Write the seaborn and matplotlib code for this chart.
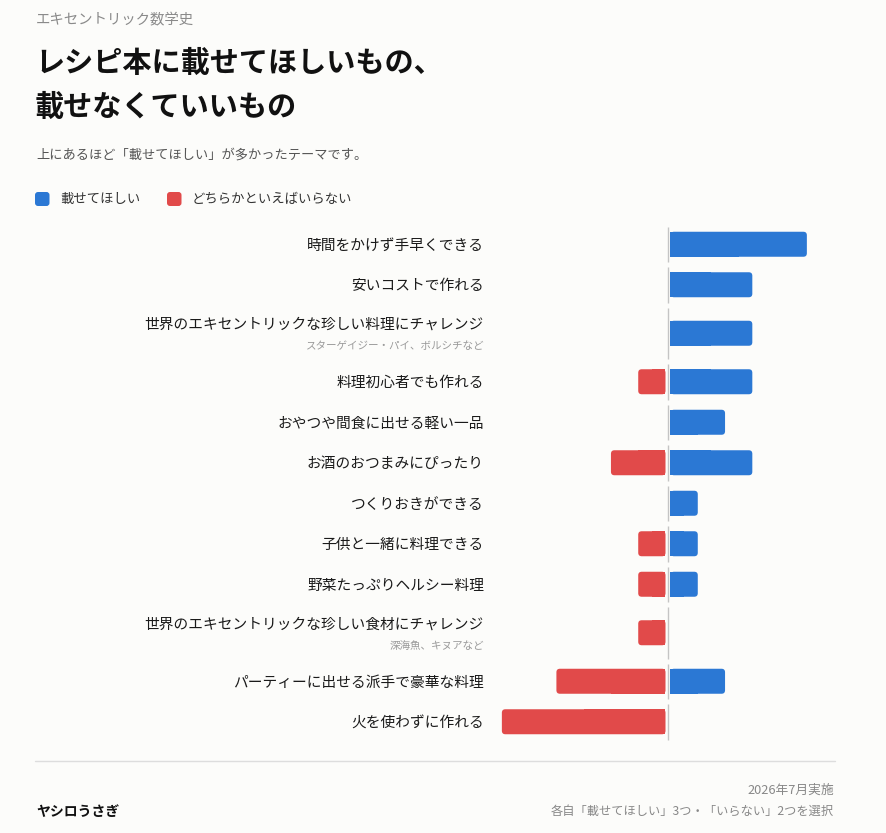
import numpy as np
import pandas as pd
import matplotlib.pyplot as plt
from matplotlib.patches import FancyBboxPatch, Rectangle
from matplotlib.lines import Line2D
from matplotlib.transforms import blended_transform_factory
import seaborn as sns

# データ(上から順に)
themes = [
    '時間をかけず手早くできる',
    '安いコストで作れる',
    '世界のエキセントリックな珍しい料理にチャレンジ',
    '料理初心者でも作れる',
    'おやつや間食に出せる軽い一品',
    'お酒のおつまみにぴったり',
    'つくりおきができる',
    '子供と一緒に料理できる',
    '野菜たっぷりヘルシー料理',
    '世界のエキセントリックな珍しい食材にチャレンジ',
    'パーティーに出せる派手で豪華な料理',
    '火を使わずに作れる',
]
notes = ['', '', 'スターゲイジー・パイ、ボルシチなど', '', '', '', '', '', '',
         '深海魚、キヌアなど', '', '']
want = [5, 3, 3, 3, 2, 3, 1, 1, 1, 0, 2, 0]
skip = [0, 0, 0, 1, 0, 2, 0, 1, 1, 1, 4, 6]
kinds = ['載せてほしい', 'どちらかといえばいらない']

W, H = 887, 833
bg = '#fcfcfa'
blue = '#2b78d4'
red = '#e14a4a'

sns.set_theme(style='white')
plt.rcParams['font.family'] = ['Noto Sans CJK JP', 'DejaVu Sans']

# 補足つきの行は少し高くする(ピクセル単位)
heights = np.array([56.5 if n else 40.5 for n in notes])
tops = 224 + np.concatenate([[0], np.cumsum(heights)[:-1]])
centers = tops + heights / 2

df = pd.DataFrame({
    'y': np.concatenate([centers, centers]),
    'value': np.concatenate([want, -np.array(skip)]),
    'kind': [kinds[0]] * len(want) + [kinds[1]] * len(skip),
})

fig = plt.figure(figsize=(W / 100, H / 100), dpi=100, facecolor=bg)
ax = fig.add_axes([494 / W, (H - 742) / H, 348 / W, 518 / H])
ax.set_facecolor(bg)

sns.barplot(data=df, x='value', y='y', hue='kind', orient='y', native_scale=True,
            dodge=False, palette={kinds[0]: blue, kinds[1]: red}, saturation=1,
            width=25 / 40.5, errorbar=None, legend=False, ax=ax)

ax.set_xlim(-6.38, 6.38)
ax.set_ylim(742, 224)
ax.axis('off')

# 棒を角丸にして中央線から少し離す
px_per_unit = 348 / 12.76
g = 2.5 / px_per_unit
r = 3.5 / px_per_unit
for p in list(ax.patches):
    x, y, w, h = p.get_x(), p.get_y(), p.get_width(), p.get_height()
    col = p.get_facecolor()
    p.remove()
    if w == 0:
        continue
    if w > 0:
        x0, x1 = x + g, x + w + g
        sq = Rectangle((x0, y), (x1 - x0) / 2, h, fc=col, lw=0)
    else:
        x0, x1 = x + w - g, x - g
        sq = Rectangle(((x0 + x1) / 2, y), (x1 - x0) / 2, h, fc=col, lw=0)
    ax.add_patch(FancyBboxPatch((x0, y), x1 - x0, h,
                                boxstyle=f'round,pad=0,rounding_size={r}',
                                mutation_aspect=px_per_unit, fc=col, lw=0))
    ax.add_patch(sq)

# 行ごとの中央線
for t, hh in zip(tops, heights):
    ax.vlines(0, t + 2.5, t + hh - 2.5, color='#c4c4c4', lw=1)

# 項目ラベル
trans = blended_transform_factory(fig.transFigure, ax.transData)
for c, th, n in zip(centers, themes, notes):
    if n:
        ax.text(484 / W, c - 8.5, th, ha='right', va='center', fontsize=10.6,
                color='#1a1a1a', transform=trans)
        ax.text(484 / W, c + 13, n, ha='right', va='center', fontsize=7.6,
                color='#9a9a9a', transform=trans)
    else:
        ax.text(484 / W, c + 1.5, th, ha='right', va='center', fontsize=10.6,
                color='#1a1a1a', transform=trans)


def fy(y):
    return 1 - y / H


fig.text(36 / W, fy(20), 'エキセントリック数学史', fontsize=10.4, color='#8a8a8a', va='center')
fig.text(35 / W, fy(63), 'レシピ本に載せてほしいもの、', fontsize=21, weight='bold',
         color='#111111', va='center')
fig.text(35 / W, fy(107), '載せなくていいもの', fontsize=21, weight='bold',
         color='#111111', va='center')
fig.text(36 / W, fy(155), '上にあるほど「載せてほしい」が多かったテーマです。', fontsize=9.5,
         color='#555555', va='center')

# 凡例
for lx, tx, col, lab in [(35, 60, blue, kinds[0]), (167, 192, red, kinds[1])]:
    fig.add_artist(FancyBboxPatch((lx / 100, (H - 206) / 100), 0.145, 0.14,
                                  boxstyle='round,pad=0,rounding_size=0.03',
                                  transform=fig.dpi_scale_trans, fc=col, lw=0))
    fig.text(tx / W, fy(199), lab, fontsize=9.6, color='#333333', va='center')

# フッター
fig.add_artist(Line2D([35 / W, 835 / W], [fy(760.5)] * 2, color='#dddddd', lw=1))
fig.text(36 / W, fy(812), 'ヤシロうさぎ', fontsize=10, weight='bold', color='#111111', va='center')
fig.text(834 / W, fy(790), '2026年7月実施', fontsize=9.2, color='#888888', va='center', ha='right')
fig.text(834 / W, fy(811), '各自「載せてほしい」3つ・「いらない」2つを選択', fontsize=8.8,
         color='#888888', va='center', ha='right')

fig.savefig('out.png', dpi=100, facecolor=bg)
